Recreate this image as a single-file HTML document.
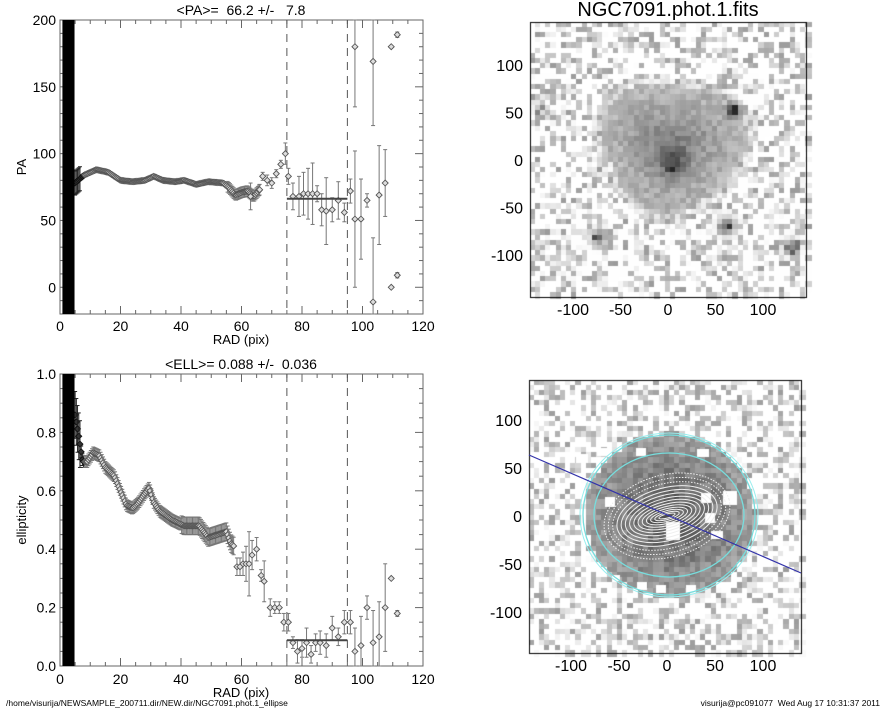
<!DOCTYPE html>
<html><head><meta charset="utf-8">
<style>
html,body{margin:0;padding:0;background:#fff;}
#wrap{position:relative;width:885px;height:708px;overflow:hidden;font-family:"Liberation Sans",sans-serif;}
svg,canvas{position:absolute;left:0;top:0;}
text{white-space:pre;}
</style></head>
<body><div id="wrap">
<canvas id="cv" width="885" height="708"></canvas>
<svg id="sv" width="885" height="708" xmlns="http://www.w3.org/2000/svg" font-family="Liberation Sans, sans-serif"></svg>
</div>
<script>
var NS="http://www.w3.org/2000/svg",sv=document.getElementById('sv');
function el(t,a,txt){var e=document.createElementNS(NS,t);for(var k in a)e.setAttribute(k,a[k]);if(txt!=null)e.textContent=txt;sv.appendChild(e);return e;}
function line(x1,y1,x2,y2,c,w,d){var a={x1:x1,y1:y1,x2:x2,y2:y2,stroke:c||'#000','stroke-width':w||1};if(d)a['stroke-dasharray']=d;return el('line',a);}
function txt(x,y,s,sz,anc,rot){var a={x:x,y:y,'font-size':sz,'text-anchor':anc||'middle',fill:'#000','xml:space':'preserve'};if(rot)a.transform='rotate(-90 '+x+' '+y+')';return el('text',a,s);}
var seed=7;function rnd(){seed=(seed*16807)%2147483647;return seed/2147483647;}

function plot(top,bot,ymin,ymax,ymaj,ymin2,ylabels,fmt,data,mean,title,ylab,tickOff,radOff){
 var L=60,R=423;
 function X(v){return L+(R-L)*v/120;} function Y(v){return bot-(bot-top)*(v-ymin)/(ymax-ymin);}
 el('rect',{x:L,y:top,width:R-L,height:bot-top,fill:'none',stroke:'#666','stroke-width':1});
 for(var v=0;v<=120;v+=5){var mj=v%20==0,l=mj?8:4;line(X(v),bot,X(v),bot-l,'#666');line(X(v),top,X(v),top+l,'#666');}
 for(var v=ymin;v<=ymax+1e-9;v+=ymin2){var mj=Math.abs(Math.round(v/ymaj)*ymaj-v)<1e-6,l=mj?8:4;line(L,Y(v),L+l,Y(v),'#666');line(R,Y(v),R-l,Y(v),'#666');}
 for(var v=0;v<=120;v+=20)txt(X(v),bot+tickOff,String(v),14);
 ylabels.forEach(function(v){txt(L-4,Y(v)+5,fmt(v),14,'end');});
 txt(241,bot+radOff,'RAD (pix)',13);
 txt(26,(top+bot)/2,ylab,13,'middle',true);
 txt(241,top-5,title,14);
 line(X(75),top,X(75),bot,'#555',1,'8,6');line(X(95),top,X(95),bot,'#555',1,'8,6');
 data.forEach(function(p){
  var x=X(p[0]),y=Y(p[1]),e=p[2],dark=p[0]<8;
  var ec=dark?'#222':'#777';
  if(e){var y1=Math.max(top,Y(p[1]+e)),y2=Math.min(bot,Y(p[1]-e));line(x,y1,x,y2,ec,1);line(x-2,y1,x+2,y1,ec);line(x-2,y2,x+2,y2,ec);}
  if(y>=top-2&&y<=bot+2)el('path',{d:'M'+(x-3)+' '+y+'L'+x+' '+(y-3)+'L'+(x+3)+' '+y+'L'+x+' '+(y+3)+'Z',fill:dark?'#333':'#ddd',stroke:dark?'#111':'#555','stroke-width':0.9});
 });
 line(X(75),Y(mean),X(95),Y(mean),'#444',2);
 el('rect',{x:X(0.8),y:top,width:X(4.8)-X(0.8),height:bot-top,fill:'#000'});
}
function interp(knots,step,errf){var out=[];for(var r=knots[0][0];r<=knots[knots.length-1][0];r+=step){for(var i=0;i<knots.length-1;i++)if(r>=knots[i][0]&&r<=knots[i+1][0])break;var a=knots[i],b=knots[i+1],t=(r-a[0])/(b[0]-a[0]);out.push([r,a[1]+(b[1]-a[1])*t,errf(r)]);}return out;}
var pk=[[5,78],[8,84],[12,88],[16,86],[20,80],[24,79],[28,80],[31,83],[34,80],[38,79],[41,80],[45,77],[49,79],[54,78],[56,74],[58,69],[60,71],[62,72],[64,68],[66,73]];
var pa=interp(pk,0.4,function(r){return r<7?9:(r<55?1.5:4);});
pa=pa.concat([[63,68,10],[66,73,4],[67,83,3],[68.5,80,4],[70,78,4],[71.5,85,3],[73,92,3],[74.5,100,8],[75.5,83,6],[77,68,10],[79,68,15],[80.5,70,16],[82,70,19],[83.5,70,23],[85,70,6],[86.5,58,12],[88,57,25],[90,58,9],[92,65,14],[94,56,7],[96,72,9],[97.5,51,51],[97.5,180,45],[99.5,51,30],[101.5,65,5],[103.5,169,48],[103.5,-11,48],[105.5,69,37],[107.5,78,25],[109.5,180,0],[109.5,0,0],[111.5,189,2],[111.5,9,2]]);
plot(20,314,-20,200,50,10,[0,50,100,150,200],function(v){return String(v);},pa,66.2,'<PA>=  66.2 +/-   7.8','PA',17,30);
var ek=[[5,0.86],[6,0.8],[7.5,0.7],[9,0.7],[11,0.73],[13,0.72],[15,0.68],[18,0.65],[20,0.6],[22,0.55],[24,0.54],[26,0.56],[28,0.59],[29.5,0.61],[31,0.56],[33,0.53],[37,0.5],[41,0.48],[46,0.48],[49,0.44],[52,0.45],[55,0.46],[56.5,0.42],[57.5,0.41]];
var el2=interp(ek,0.4,function(r){return r<7?0.08:(r<40?0.02:0.03);});
el2=el2.concat([[58.5,0.34,0.03],[59.5,0.34,0.03],[60.5,0.35,0.04],[61.5,0.35,0.06],[62.5,0.35,0.11],[63.5,0.38,0.05],[65,0.4,0.04],[66.5,0.31,0.02],[67.5,0.29,0.07],[69.5,0.2,0.03],[71,0.2,0.02],[72.5,0.2,0.02],[74,0.15,0.03],[75.5,0.15,0.03],[77,0.08,0.02],[78.5,0.05,0.04],[80,0.06,0.03],[81.5,0.08,0.05],[83,0.04,0.03],[84.5,0.08,0.03],[86,0.08,0.04],[88,0.07,0.04],[90,0.13,0.04],[92,0.1,0.03],[94,0.15,0.04],[96,0.15,0.04],[97.5,0.05,0.08],[99.5,0.07,0.1],[101.5,0.2,0.04],[103.5,0.08,0.11],[105.5,0.1,0.12],[107.5,0.2,0.15],[109.5,0.3,0],[111.5,0.18,0.01]]);
plot(374,666,0,1,0.2,0.05,[0,0.2,0.4,0.6,0.8,1.0],function(v){return v.toFixed(1);},el2,0.088,'<ELL>= 0.088 +/-  0.036','ellipticity',18,31);

var cv=document.getElementById('cv').getContext('2d');
function img(L,T,R,B,cx,cy,sc,fn){
 var cs=5.2;
 for(var y=T;y<B;y+=cs)for(var x=L;x<R;x+=cs){
  var ux=(x+cs/2-cx)/sc,uy=-(y+cs/2-cy)/sc;
  var g=fn(ux,uy);
  g=Math.max(0,Math.min(255,g));
  cv.fillStyle='rgb('+(g|0)+','+(g|0)+','+(g|0)+')';
  cv.fillRect(Math.floor(x),Math.floor(y),Math.ceil(cs)+1,Math.ceil(cs)+1);
 }
}
function noise(){var r=rnd();return r<0.5?255:255-rnd()*100;}
function star(ux,uy,sx,sy,a,s){var d=((ux-sx)*(ux-sx)+(uy-sy)*(uy-sy))/(s*s);return a*Math.exp(-d);}
img(530,22,806,297,668,160,0.95,function(ux,uy){
 var v=noise();
 var ang=Math.atan2(uy-15,ux-5);
 var rr=75+6*Math.sin(3*ang+0.5);
 var d=Math.sqrt((ux-5)*(ux-5)+((uy-15)*1.1)*((uy-15)*1.1));
 if(d<rr+10){var base=190-65*Math.max(0,1-d/rr)+(d>rr?40:0);v=Math.min(v,base+rnd()*40-20);}
 v-=star(ux,uy,5,-2,70,14);
 v-=star(ux,uy,70,52,170,7);v-=star(ux,uy,-72,-82,150,8);v-=star(ux,uy,63,-70,150,9);v-=star(ux,uy,130,-92,120,8);v-=star(ux,uy,-135,55,60,6);v-=star(ux,uy,3,-12,110,3);
 return v;});
img(529,380,801,653,667,516,0.95,function(ux,uy){
 var v=noise();
 var dx=ux-4,dy=uy;
 var d=Math.sqrt(dx*dx/(85*85)+dy*dy/(82*82));
 if(d<1.05){var base=150-70*Math.max(0,1-d);v=Math.min(v,base+rnd()*45-15);}
 return v;});
cv.fillStyle='#fff';
[[576,454,12,9],[597,448,10,8],[636,448,10,8],[697,449,12,8],[605,497,10,10],[701,493,10,10],[723,491,14,14],[705,513,10,10],[666,522,14,18],[711,531,12,8],[637,582,10,8],[656,585,10,8],[686,585,10,8],[612,575,8,6]].forEach(function(r){cv.fillRect(r[0],r[1],r[2],r[3]);});
cv.strokeStyle='#000';cv.lineWidth=1;
cv.strokeRect(530.5,22.5,276,275);cv.strokeRect(529.5,380.5,272,273);

txt(668,16,'NGC7091.phot.1.fits',20);
function imgAxes(cx,cy,sc,bot,left){
 [-100,-50,0,50,100].forEach(function(v){txt(cx+v*sc,bot+18,String(v),16);txt(left-7,cy-v*sc+6,String(v),16,'end');});
}
imgAxes(668,160,0.95,297,530);
imgAxes(667,516,0.96,653,529);
var g=el('g',{transform:'translate(667,516) rotate(-15)'});
function ell(rx,ry,c,w,d){var e=document.createElementNS(NS,'ellipse');e.setAttribute('rx',rx);e.setAttribute('ry',ry);e.setAttribute('fill','none');e.setAttribute('stroke',c);e.setAttribute('stroke-width',w);if(d)e.setAttribute('stroke-dasharray',d);g.appendChild(e);}
for(var i=1;i<=14;i++){var a=4+i*4.3,b=a*(0.22+i*0.03);ell(a,b,'#eee',1,i>11?'1.5,1.5':null);}
g=el('g',{transform:'translate(669,515)'});
ell(75,62,'#7dd','1.3');ell(86,80,'#7dd','1.3');ell(89,82,'#9ee','1');
line(529,455,801,573,'#33a',1.2);

txt(6,706,'/home/visurija/NEWSAMPLE_200711.dir/NEW.dir/NGC7091.phot.1_ellipse',8.5,'start');
txt(880,706,'visurija@pc091077  Wed Aug 17 10:31:37 2011',8.5,'end');
</script>
</body></html>
